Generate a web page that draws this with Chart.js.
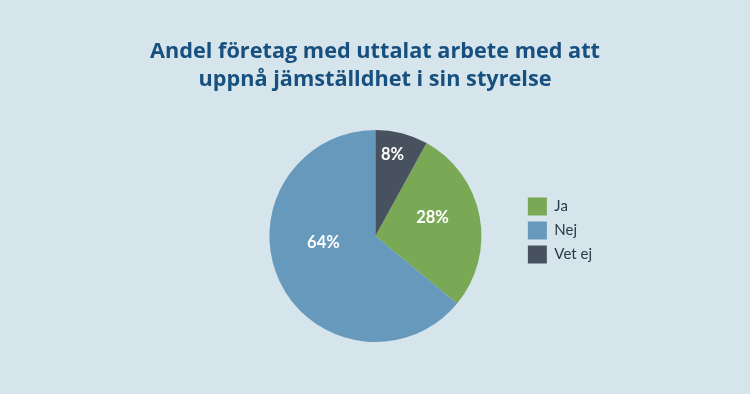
<!DOCTYPE html>
<html>
<head>
<meta charset="utf-8">
<script src="https://cdn.jsdelivr.net/npm/chart.js@4/dist/chart.umd.min.js"></script>
<style>
  html, body { margin: 0; padding: 0; background: #d6e4ec; }
  #wrap { width: 750px; height: 394px; position: relative; }
</style>
</head>
<body>
<div id="wrap"><canvas id="c" width="750" height="394"></canvas></div>
<script>
const titleLines = ["Andel företag med uttalat arbete med att", "uppnå jämställdhet i sin styrelse"];
const categories = ["Ja", "Nej", "Vet ej"];
const values = [28, 64, 8];
const valueLabels = ["28%", "64%", "8%"];
const colors = ["#7aa955", "#6699bb", "#48525e"];
// label placement: fraction of radius and angular nudge (degrees)
const labelRadius = [0.565, 0.495, 0.78];
const labelAngleNudge = [-6.7, 17.5, -2.5];

const sliceLabels = {
  id: 'sliceLabels',
  afterDatasetsDraw(chart) {
    const ctx = chart.ctx;
    const meta = chart.getDatasetMeta(0);
    ctx.save();
    ctx.fillStyle = '#ffffff';
    ctx.font = 'bold 16.5px Lato';
    ctx.textAlign = 'center';
    ctx.textBaseline = 'middle';
    meta.data.forEach((arc, i) => {
      const p = arc.getProps(['x', 'y', 'startAngle', 'endAngle', 'outerRadius'], true);
      const a = (p.startAngle + p.endAngle) / 2 + labelAngleNudge[i] * Math.PI / 180;
      const r = p.outerRadius * labelRadius[i];
      ctx.fillText(valueLabels[i], p.x + Math.cos(a) * r, p.y + Math.sin(a) * r);
    });
    ctx.restore();
  }
};

// centre the title over the whole canvas, not only the padded box
const centerTitle = {
  id: 'centerTitle',
  afterLayout(chart) {
    const t = chart.titleBlock;
    if (t) { t.left = 0; t.right = chart.width; t.width = chart.width; }
  }
};

new Chart(document.getElementById('c'), {
  type: 'pie',
  data: {
    labels: categories,
    datasets: [{
      data: values,
      backgroundColor: colors,
      borderWidth: 0
    }]
  },
  options: {
    responsive: false,
    animation: false,
    rotation: 28.8,
    layout: { padding: { left: 229, right: 148, top: 0, bottom: 52 } },
    plugins: {
      title: {
        display: true,
        text: titleLines,
        color: '#17507e',
        font: { family: 'Open Sans', size: 21.7, weight: 'bold', lineHeight: 1.29 },
        padding: { top: 38, bottom: 36 }
      },
      legend: {
        display: true,
        position: 'right',
        align: 'center',
        title: { display: true, text: '', font: { size: 12, lineHeight: 1 }, padding: { top: 107, bottom: 0 } },
        labels: {
          boxWidth: 19,
          boxHeight: 18,
          padding: 6,
          color: '#2c3a48',
          font: { family: 'Lato', size: 15 }
        }
      },
      tooltip: { enabled: false }
    }
  },
  plugins: [sliceLabels, centerTitle]
});
</script>
</body>
</html>
